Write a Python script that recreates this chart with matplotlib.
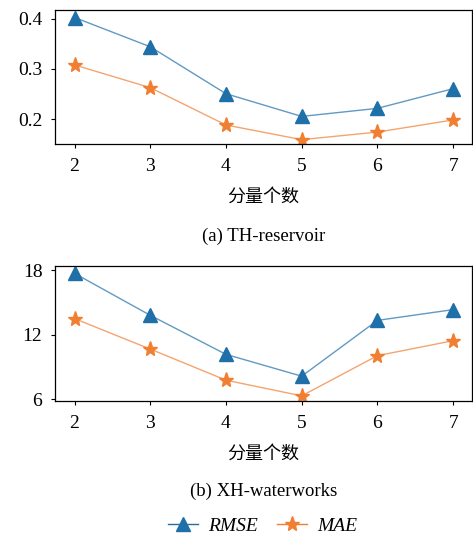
import matplotlib.pyplot as plt

# Data
components = [2, 3, 4, 5, 6, 7]
th_rmse = [0.402, 0.344, 0.251, 0.206, 0.222, 0.261]
th_mae = [0.308, 0.263, 0.189, 0.160, 0.175, 0.199]
xh_rmse = [17.7, 13.8, 10.17, 8.14, 13.33, 14.33]
xh_mae = [13.49, 10.66, 7.77, 6.31, 10.05, 11.44]

xlabel = "分量个数"
captions = ["(a) TH-reservoir", "(b) XH-waterworks"]

BLUE = "#1f6fa8"
ORANGE = "#f07f32"
SERIF = ["Liberation Serif", "DejaVu Serif"]
CJK = ["Noto Sans CJK SC", "DejaVu Sans"]


def draw(ax, rmse, mae):
    ax.plot(components, rmse, color=BLUE, linewidth=1.0, alpha=0.7)
    ax.plot(components, rmse, linestyle="none", marker="^", markersize=10,
            color=BLUE, label="RMSE")
    ax.plot(components, mae, color=ORANGE, linewidth=1.0, alpha=0.7)
    ax.plot(components, mae, linestyle="none", marker="*", markersize=11,
            color=ORANGE, label="MAE")
    ax.set_xlim(1.74, 7.25)
    ax.set_xticks(components)
    ax.set_xlabel(xlabel, family=CJK, fontsize=13, labelpad=9)
    ax.tick_params(axis="x", length=3, width=0.8, labelsize=14, pad=7)
    ax.tick_params(axis="y", length=3, width=0.8, labelsize=14, pad=6)
    for s in ax.spines.values():
        s.set_linewidth(0.9)


def main():
    fig = plt.figure(figsize=(4.73, 5.36), dpi=100)
    ax1 = fig.add_axes([0.116, 0.731, 0.882, 0.250])
    ax2 = fig.add_axes([0.116, 0.252, 0.882, 0.252])

    draw(ax1, th_rmse, th_mae)
    ax1.set_ylim(0.151, 0.4165)
    ax1.set_yticks([0.2, 0.3, 0.4])

    draw(ax2, xh_rmse, xh_mae)
    ax2.set_ylim(5.84, 18.4)
    ax2.set_yticks([6, 12, 18])
    for ax in (ax1, ax2):
        for lab in ax.get_xticklabels() + ax.get_yticklabels():
            lab.set_family(SERIF)

    fig.text(0.557, 1 - 236 / 536, captions[0], ha="center", va="center",
             family=SERIF, fontsize=13.5)
    fig.text(0.557, 1 - 491 / 536, captions[1], ha="center", va="center",
             family=SERIF, fontsize=13.5)

    handles = [
        plt.Line2D([], [], color=BLUE, linewidth=1.0, marker="^",
                   markersize=10, markeredgecolor=BLUE, markerfacecolor=BLUE),
        plt.Line2D([], [], color=ORANGE, linewidth=1.0, marker="*",
                   markersize=11, markeredgecolor=ORANGE, markerfacecolor=ORANGE),
    ]
    fig.legend(handles, ["RMSE", "MAE"], loc="center",
               bbox_to_anchor=(0.555, 1 - 526 / 536), ncol=2, frameon=False,
               prop={"family": SERIF, "style": "italic", "size": 14},
               handlelength=1.55, columnspacing=1.0, handletextpad=0.5)

    plt.savefig("out.png", dpi=100)


if __name__ == "__main__":
    main()
